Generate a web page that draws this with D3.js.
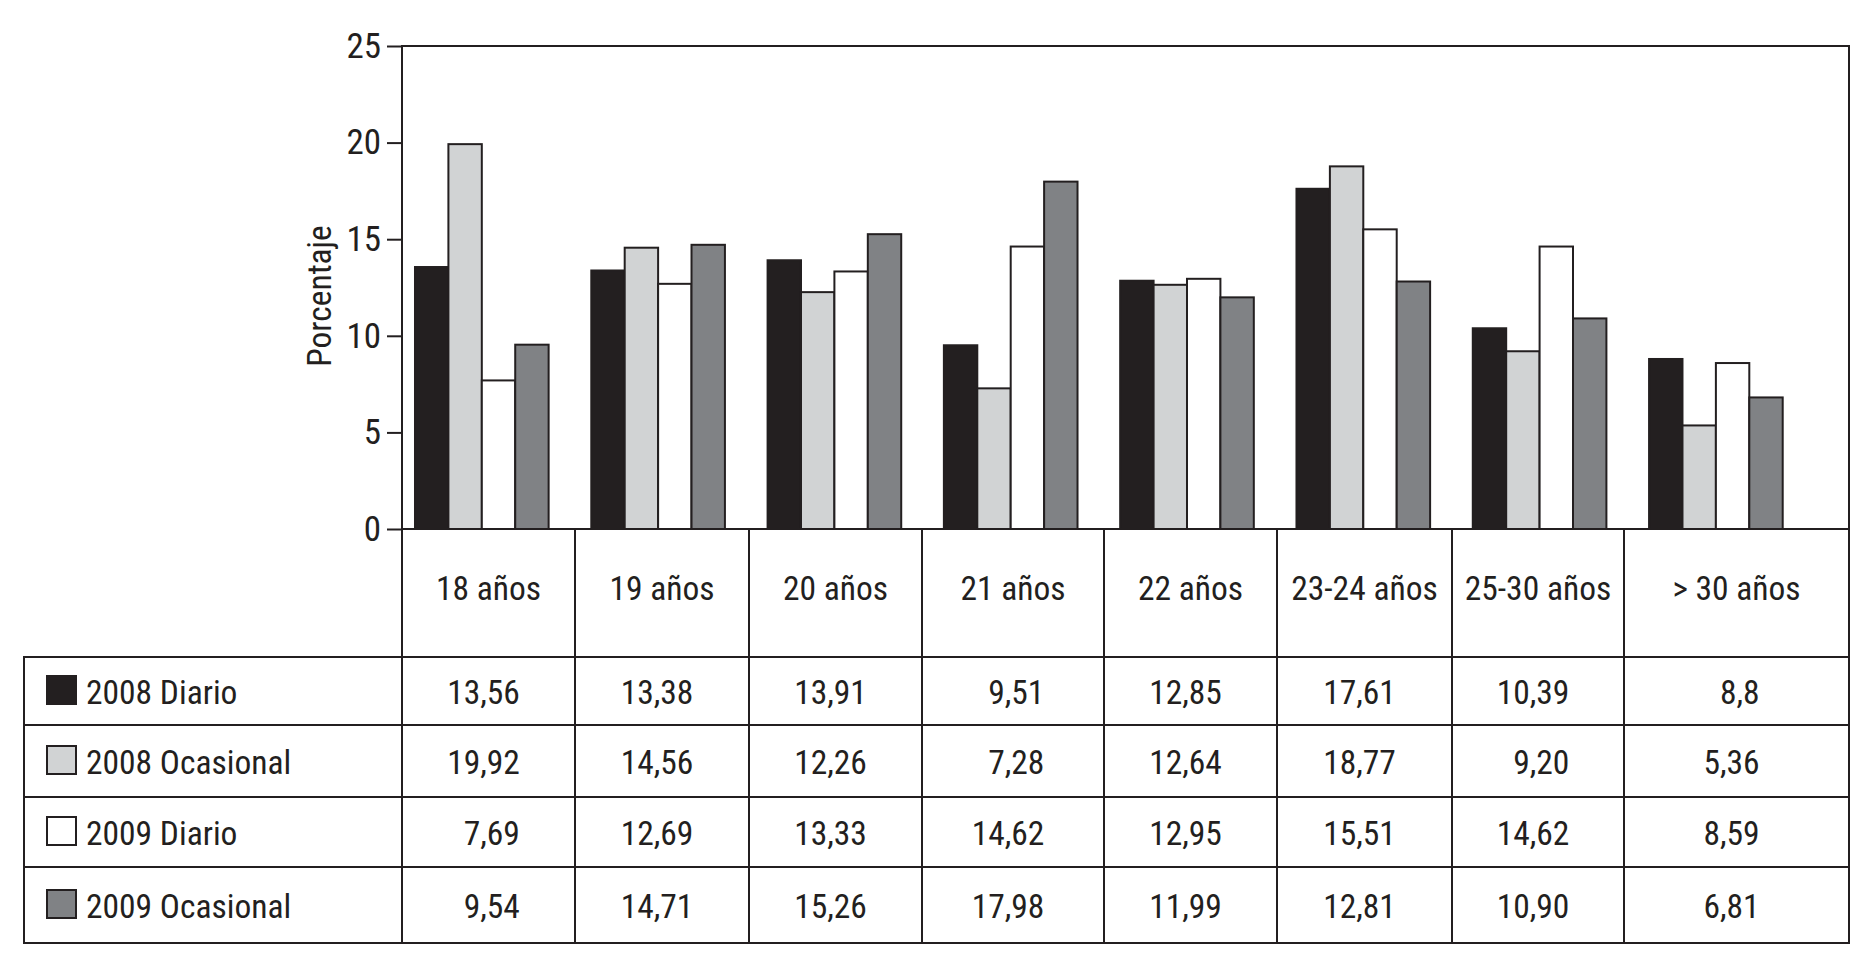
<!DOCTYPE html>
<html>
<head>
<meta charset="utf-8">
<script src="https://cdn.jsdelivr.net/npm/d3@7"></script>
<style>
  html, body { margin: 0; padding: 0; background: #ffffff; }
  svg { display: block; }
  text { font-family: "Liberation Sans Narrow", "Arial Narrow", "Roboto Condensed", "DejaVu Sans Condensed", sans-serif; fill: #231f20; }
</style>
</head>
<body>
<svg id="chart" width="1870" height="966"></svg>
<script>
// ---------------- data ----------------
const categories = ["18 años", "19 años", "20 años", "21 años", "22 años", "23-24 años", "25-30 años", "> 30 años"];
const seriesNames = ["2008 Diario", "2008 Ocasional", "2009 Diario", "2009 Ocasional"];
const diario2008    = [13.56, 13.38, 13.91,  9.51, 12.85, 17.61, 10.39, 8.8];
const ocasional2008 = [19.92, 14.56, 12.26,  7.28, 12.64, 18.77,  9.20, 5.36];
const diario2009    = [ 7.69, 12.69, 13.33, 14.62, 12.95, 15.51, 14.62, 8.59];
const ocasional2009 = [ 9.54, 14.71, 15.26, 17.98, 11.99, 12.81, 10.90, 6.81];
const yTicks = [0, 5, 10, 15, 20, 25];
const yLabel = "Porcentaje";
// printed with a single decimal in the original table
const printedOneDecimal = [["2008 Diario", "> 30 años"]];

const seriesValues = [diario2008, ocasional2008, diario2009, ocasional2009];
const seriesFill = ["#231f20", "#d1d3d4", "#ffffff", "#808285"];

// ---------------- layout ----------------
const INK = "#231f20";
const LW = 2;
const plotTop = 46, plotBottom = 529, plotLeft = 402, plotRight = 1849;
const tableLeft = 24;
const colEdges = [402, 575, 749, 922, 1104, 1277, 1452, 1624, 1849];
const rowEdges = [529, 657, 725, 797, 867, 943];
const FS = 33.5;

const svg = d3.select("#chart");

const y = d3.scaleLinear().domain([0, 25]).range([plotBottom, plotTop]);
const x0 = d3.scaleBand().domain(categories).range([402, 1795.7]).paddingInner(0.242).paddingOuter(0.0737);
const x1 = d3.scaleBand().domain(seriesNames).range([0, x0.bandwidth()]);
const color = d3.scaleOrdinal().domain(seriesNames).range(seriesFill);

// bars
const barData = [];
seriesNames.forEach((s, si) => {
  categories.forEach((c, ci) => barData.push({ s, c, v: seriesValues[si][ci] }));
});
svg.append("g").selectAll("rect").data(barData).join("rect")
  .attr("x", d => x0(d.c) + x1(d.s))
  .attr("y", d => y(d.v))
  .attr("width", x1.bandwidth())
  .attr("height", d => y(0) - y(d.v))
  .attr("fill", d => color(d.s))
  .attr("stroke", INK)
  .attr("stroke-width", LW);

// y axis
const yAxis = svg.append("g")
  .attr("transform", `translate(${plotLeft},0)`)
  .call(d3.axisLeft(y).tickValues(yTicks).tickSize(15).tickPadding(6).tickFormat(d3.format("d")));
yAxis.select(".domain").remove();
yAxis.selectAll(".tick line").attr("stroke", INK).attr("stroke-width", LW);
yAxis.selectAll(".tick text").attr("font-size", 35).attr("fill", INK)
  .style("font-family", null);

svg.append("text")
  .attr("transform", `translate(331, 296) rotate(-90)`)
  .attr("text-anchor", "middle")
  .attr("font-size", FS)
  .text(yLabel);

// frame and table lines
const lines = svg.append("g").attr("stroke", INK).attr("stroke-width", LW).attr("fill", "none");
const hline = (x1_, x2_, yy) => lines.append("line").attr("x1", x1_).attr("x2", x2_).attr("y1", yy).attr("y2", yy);
const vline = (xx, y1_, y2_) => lines.append("line").attr("x1", xx).attr("x2", xx).attr("y1", y1_).attr("y2", y2_);

hline(plotLeft - 1, plotRight + 1, plotTop);
hline(plotLeft, plotRight, plotBottom);
vline(plotLeft, plotTop, rowEdges[rowEdges.length - 1]);
vline(plotRight, plotTop - 1, rowEdges[rowEdges.length - 1] + 1);
colEdges.slice(1, -1).forEach(cx => vline(cx, plotBottom, rowEdges[rowEdges.length - 1]));
rowEdges.slice(1).forEach(ry => hline(tableLeft - 1, plotRight + 1, ry));
vline(tableLeft, rowEdges[1], rowEdges[rowEdges.length - 1]);

// category header labels
categories.forEach((c, ci) => {
  svg.append("text")
    .attr("x", (colEdges[ci] + colEdges[ci + 1]) / 2)
    .attr("y", 600)
    .attr("text-anchor", "middle")
    .attr("font-size", FS)
    .text(c);
});

// legend rows
seriesNames.forEach((s, si) => {
  const base = (rowEdges[si + 1] + rowEdges[si + 2]) / 2 + 13;
  svg.append("rect")
    .attr("x", 47).attr("y", base - 28)
    .attr("width", 29).attr("height", 28)
    .attr("fill", color(s)).attr("stroke", INK).attr("stroke-width", LW);
  svg.append("text")
    .attr("x", 86).attr("y", base)
    .attr("font-size", FS)
    .text(s);
});

// table values
const fmt = (s, c, v) => {
  const one = printedOneDecimal.some(p => p[0] === s && p[1] === c);
  return (one ? d3.format(".1f")(v) : d3.format(".2f")(v)).replace(".", ",");
};
categories.forEach((c, ci) => {
  const center = (colEdges[ci] + colEdges[ci + 1]) / 2;
  const texts = seriesNames.map((s, si) => {
    const base = (rowEdges[si + 1] + rowEdges[si + 2]) / 2 + 13;
    return svg.append("text")
      .attr("y", base)
      .attr("text-anchor", "end")
      .attr("font-size", FS)
      .text(fmt(s, c, seriesValues[si][ci]));
  });
  const maxW = d3.max(texts, t => t.node().getComputedTextLength());
  texts.forEach(t => t.attr("x", center + maxW / 2 - 5));
});
</script>
</body>
</html>
